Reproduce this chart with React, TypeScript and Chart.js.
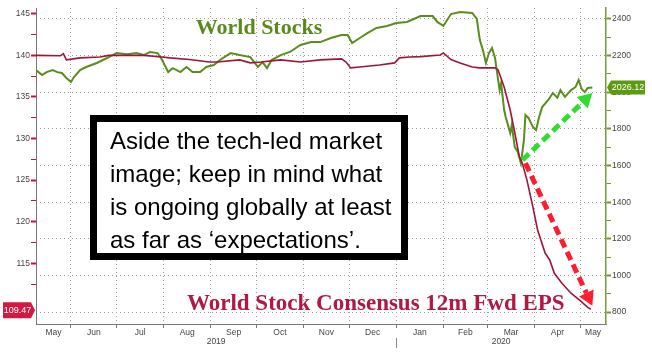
import React, { useEffect, useRef } from 'react';
import { Chart, registerables } from 'chart.js';
Chart.register(...registerables);

// ---------- data ----------
const monthLabels = ['May', 'Jun', 'Jul', 'Aug', 'Sep', 'Oct', 'Nov', 'Dec', 'Jan', 'Feb', 'Mar', 'Apr', 'May'];
const monthStarts = ['2019-05-01', '2019-06-01', '2019-07-01', '2019-08-01', '2019-09-01', '2019-10-01', '2019-11-01', '2019-12-01', '2020-01-01', '2020-02-01', '2020-03-01', '2020-04-01', '2020-05-01', '2020-06-01'];
const yearLabels = ['2019', '2020'];
const yearStarts = ['2019-01-01', '2020-01-01', '2021-01-01'];
const axisStart = '2019-05-09';
const axisEnd = '2020-05-18';

const leftTicks = [112.5, 115, 117.5, 120, 122.5, 125, 127.5, 130, 132.5, 135, 137.5, 140, 142.5, 145];
const rightTicks = [800, 900, 1000, 1100, 1200, 1300, 1400, 1500, 1600, 1700, 1800, 1900, 2000, 2100, 2200, 2300, 2400];

const stockDates = [
  '2019-05-09', '2019-05-13', '2019-05-16', '2019-05-20', '2019-05-23', '2019-05-26', '2019-05-29', '2019-06-01', '2019-06-03', '2019-06-07',
  '2019-06-11', '2019-06-18', '2019-06-22', '2019-06-26', '2019-07-01', '2019-07-08', '2019-07-14', '2019-07-19', '2019-07-23', '2019-07-28',
  '2019-07-31', '2019-08-04', '2019-08-07', '2019-08-12', '2019-08-16', '2019-08-20', '2019-08-25', '2019-08-29', '2019-09-03', '2019-09-07',
  '2019-09-14', '2019-09-20', '2019-09-27', '2019-10-02', '2019-10-05', '2019-10-08', '2019-10-11', '2019-10-17', '2019-10-23', '2019-10-30',
  '2019-11-06', '2019-11-12', '2019-11-19', '2019-11-26', '2019-11-30', '2019-12-03', '2019-12-07', '2019-12-13', '2019-12-19', '2019-12-26',
  '2020-01-01', '2020-01-08', '2020-01-17', '2020-01-25', '2020-01-28', '2020-02-01', '2020-02-06', '2020-02-12', '2020-02-20', '2020-02-23',
  '2020-02-25', '2020-02-27', '2020-02-29', '2020-03-02', '2020-03-04', '2020-03-06', '2020-03-09', '2020-03-10', '2020-03-12', '2020-03-13',
  '2020-03-16', '2020-03-17', '2020-03-19', '2020-03-21', '2020-03-23', '2020-03-25', '2020-03-26', '2020-03-28', '2020-03-31', '2020-04-02',
  '2020-04-04', '2020-04-06', '2020-04-10', '2020-04-13', '2020-04-16', '2020-04-18', '2020-04-21', '2020-04-25', '2020-04-28', '2020-04-30',
  '2020-05-02', '2020-05-04', '2020-05-06', '2020-05-09'
];
const stockValues = [
  2121, 2094, 2110, 2121, 2110, 2105, 2078, 2056, 2083, 2121,
  2138, 2160, 2176, 2192, 2214, 2208, 2214, 2203, 2220, 2214,
  2176, 2110, 2132, 2110, 2138, 2110, 2110, 2138, 2149, 2176,
  2214, 2203, 2192, 2138, 2165, 2132, 2176, 2203, 2220, 2258,
  2274, 2274, 2296, 2313, 2313, 2269, 2291, 2323, 2351, 2362,
  2378, 2384, 2416, 2416, 2384, 2362, 2427, 2438, 2433, 2400,
  2285, 2231, 2160, 2214, 2242, 2187, 2012, 2050, 1903, 1865,
  1777, 1821, 1701, 1674, 1613, 1739, 1876, 1860, 1810, 1794,
  1865, 1919, 1958, 1996, 1970, 2012, 1975, 2012, 2029, 2067,
  2018, 2001, 2023, 2026.12
];

const epsDates = [
  '2019-05-09', '2019-05-25', '2019-05-27', '2019-05-29', '2019-06-07', '2019-06-20', '2019-06-26', '2019-07-08', '2019-07-19', '2019-07-31',
  '2019-08-05', '2019-08-18', '2019-08-31', '2019-09-05', '2019-09-20', '2019-09-27', '2019-10-04', '2019-10-17', '2019-10-30', '2019-11-12',
  '2019-11-26', '2019-11-29', '2019-12-02', '2019-12-08', '2019-12-21', '2019-12-31', '2020-01-03', '2020-01-10', '2020-01-17', '2020-01-30',
  '2020-02-01', '2020-02-06', '2020-02-12', '2020-02-20', '2020-02-25', '2020-03-06', '2020-03-08', '2020-03-12', '2020-03-16', '2020-03-19',
  '2020-03-22', '2020-03-24', '2020-03-27', '2020-03-31', '2020-04-03', '2020-04-08', '2020-04-11', '2020-04-14', '2020-04-19', '2020-04-25',
  '2020-05-01', '2020-05-06', '2020-05-08'
];
const epsValues = [
  140.0, 139.95, 140.2, 139.46, 139.7, 139.8, 140.0, 140.0, 140.0, 139.8,
  139.7, 139.5, 139.2, 139.2, 139.46, 139.1, 139.2, 139.46, 139.2, 139.46,
  139.58, 139.2, 138.5, 138.6, 138.85, 139.1, 139.7, 139.8, 139.85, 140.05,
  140.3, 139.5, 139.1, 138.6, 138.5, 138.5, 138.25, 136.2, 133.4, 130.7,
  127.8, 127.0, 125.0, 121.7, 119.0, 116.2, 115.4, 113.8, 112.6, 111.4,
  110.5, 109.7, 109.47
];

const greenArrowDates = ['2020-03-24', '2020-05-09'];
const greenArrowValues = [1630, 1996];
const redArrowDates = ['2020-03-26', '2020-05-09'];
const redArrowValues = [1613, 835];

const lastEps = 109.47;
const lastStock = 2026.12;

const titleText = 'World Stocks';
const subtitleText = 'World Stock Consensus 12m Fwd EPS';
const boxLines = [
  'Aside the tech-led market',
  'image; keep in mind what',
  'is ongoing globally at least',
  'as far as \u2018expectations\u2019.'
];

// ---------- helpers ----------
const BASE = Date.UTC(2019, 4, 1);
const dayOf = (s: string) => (Date.parse(s) - BASE) / 86400000;

const GREEN = '#5b8c1e';
const RED = '#9e1639';

function drawArrow(ctx: CanvasRenderingContext2D, x1: number, y1: number, x2: number, y2: number, color: string) {
  const ang = Math.atan2(y2 - y1, x2 - x1);
  const headLen = 14;
  const headW = 8;
  const bx = x2 - Math.cos(ang) * headLen;
  const by = y2 - Math.sin(ang) * headLen;
  ctx.save();
  ctx.strokeStyle = color;
  ctx.lineWidth = 5;
  ctx.setLineDash([9, 5]);
  ctx.beginPath();
  ctx.moveTo(x1, y1);
  ctx.lineTo(bx, by);
  ctx.stroke();
  ctx.setLineDash([]);
  ctx.fillStyle = color;
  ctx.beginPath();
  ctx.moveTo(x2, y2);
  ctx.lineTo(bx + Math.sin(ang) * headW, by - Math.cos(ang) * headW);
  ctx.lineTo(bx - Math.sin(ang) * headW, by + Math.cos(ang) * headW);
  ctx.closePath();
  ctx.fill();
  ctx.restore();
}

const overlayPlugin = {
  id: 'overlay',
  afterDraw(chart: any) {
    const { ctx, chartArea, scales } = chart;
    const x = scales.x;
    const yL = scales.yL;
    const yR = scales.yR;
    ctx.save();

    // month labels
    ctx.font = '8.5px "Liberation Sans"';
    ctx.fillStyle = '#444';
    ctx.textAlign = 'center';
    ctx.textBaseline = 'middle';
    for (let i = 0; i < monthLabels.length; i++) {
      const a = Math.max(dayOf(monthStarts[i]), x.min);
      const b = Math.min(dayOf(monthStarts[i + 1]), x.max);
      if (b <= a) continue;
      const px = (x.getPixelForValue(a) + x.getPixelForValue(b)) / 2;
      ctx.fillText(monthLabels[i], px, chartArea.bottom + 9);
    }
    for (let i = 0; i < yearLabels.length; i++) {
      const a = Math.max(dayOf(yearStarts[i]), x.min);
      const b = Math.min(dayOf(yearStarts[i + 1]), x.max);
      if (b <= a) continue;
      const px = (x.getPixelForValue(a) + x.getPixelForValue(b)) / 2;
      ctx.fillText(yearLabels[i], px, chartArea.bottom + 18);
    }
    // year separator
    const sx = Math.round(x.getPixelForValue(dayOf(yearStarts[1]))) + 0.5;
    ctx.strokeStyle = '#888';
    ctx.lineWidth = 1;
    ctx.beginPath();
    ctx.moveTo(sx, chartArea.bottom + 14);
    ctx.lineTo(sx, chartArea.bottom + 24);
    ctx.stroke();

    // title texts
    ctx.textBaseline = 'alphabetic';
    ctx.font = 'bold 22px "Liberation Serif"';
    ctx.fillStyle = '#5a8a1c';
    ctx.textAlign = 'center';
    ctx.fillText(titleText, 259, 34);
    ctx.font = 'bold 23px "Liberation Serif"';
    ctx.fillStyle = '#b01a42';
    ctx.textAlign = 'left';
    ctx.fillText(subtitleText, 187, 310);

    // arrows
    drawArrow(ctx,
      x.getPixelForValue(dayOf(greenArrowDates[0])), yR.getPixelForValue(greenArrowValues[0]),
      x.getPixelForValue(dayOf(greenArrowDates[1])), yR.getPixelForValue(greenArrowValues[1]), '#2fdc2f');
    drawArrow(ctx,
      x.getPixelForValue(dayOf(redArrowDates[0])), yR.getPixelForValue(redArrowValues[0]),
      x.getPixelForValue(dayOf(redArrowDates[1])), yR.getPixelForValue(redArrowValues[1]), '#ff1c30');

    // text box
    ctx.fillStyle = '#fff';
    ctx.fillRect(90, 115, 318, 145);
    ctx.strokeStyle = '#000';
    ctx.lineWidth = 7;
    ctx.strokeRect(93.5, 118.5, 311, 138);
    ctx.fillStyle = '#000';
    ctx.font = '24px "Liberation Sans"';
    ctx.textAlign = 'left';
    boxLines.forEach((l, i) => ctx.fillText(l, 110, 149 + i * 33));

    // value tags
    const ly = yL.getPixelForValue(lastEps) + 1;
    ctx.fillStyle = '#d21a40';
    ctx.beginPath();
    ctx.moveTo(3, ly - 8);
    ctx.lineTo(31, ly - 8);
    ctx.lineTo(35, ly);
    ctx.lineTo(31, ly + 8);
    ctx.lineTo(3, ly + 8);
    ctx.closePath();
    ctx.fill();
    ctx.fillStyle = '#fff';
    ctx.font = '9px "Liberation Sans"';
    ctx.textAlign = 'center';
    ctx.textBaseline = 'middle';
    ctx.fillText(lastEps.toFixed(2), 17.5, ly + 0.5);

    const ry = yR.getPixelForValue(lastStock);
    ctx.fillStyle = '#5c9a12';
    ctx.beginPath();
    ctx.moveTo(607, ry);
    ctx.lineTo(611, ry - 7);
    ctx.lineTo(645, ry - 7);
    ctx.lineTo(645, ry + 7);
    ctx.lineTo(611, ry + 7);
    ctx.closePath();
    ctx.fill();
    ctx.fillStyle = '#fff';
    ctx.fillText(lastStock.toFixed(2), 628, ry + 0.5);

    ctx.restore();
  }
};

export default function App() {
  const ref = useRef<HTMLCanvasElement | null>(null);
  useEffect(() => {
    document.body.style.margin = '0';
    const canvas = ref.current;
    if (!canvas) return;
    Chart.defaults.font.family = '"Liberation Sans"';
    const chart = new Chart(canvas, {
      type: 'line',
      data: {
        datasets: [
          {
            label: 'World Stock Consensus 12m Fwd EPS',
            data: epsDates.map((d, i) => ({ x: dayOf(d), y: epsValues[i] })),
            yAxisID: 'yL',
            borderColor: RED,
            borderWidth: 1.6,
            pointRadius: 0,
            tension: 0,
          },
          {
            label: 'World Stocks',
            data: stockDates.map((d, i) => ({ x: dayOf(d), y: stockValues[i] })),
            yAxisID: 'yR',
            borderColor: GREEN,
            borderWidth: 2,
            pointRadius: 0,
            tension: 0,
          },
        ],
      },
      options: {
        animation: false,
        responsive: false,
        layout: { padding: { top: 8, left: 0, right: 0, bottom: 0 } },
        plugins: { legend: { display: false }, tooltip: { enabled: false } },
        scales: {
          x: {
            type: 'linear',
            min: dayOf(axisStart),
            max: dayOf(axisEnd),
            afterBuildTicks: (scale: any) => {
              scale.ticks = monthStarts.map(dayOf).filter((d) => d > scale.min && d < scale.max).map((v) => ({ value: v }));
            },
            afterFit: (scale: any) => { scale.height = 32; },
            ticks: { callback: () => '', autoSkip: false, maxRotation: 0 },
            grid: { color: '#a0a0a0', lineWidth: 1, tickColor: '#777', tickLength: 4 },
            border: { color: '#777', width: 1, dash: [1, 3] },
          },
          yL: {
            type: 'linear',
            position: 'left',
            min: 107.7,
            max: 145.7,
            afterBuildTicks: (scale: any) => { scale.ticks = leftTicks.map((v) => ({ value: v })); },
            afterFit: (scale: any) => { scale.width = 36; },
            ticks: {
              callback: (v: any) => (Number(v) % 5 === 0 ? String(v) : ''),
              font: { size: 8.5 },
              color: '#444',
              padding: 1,
              autoSkip: false,
            },
            grid: {
              drawOnChartArea: false,
              tickColor: '#c8103a',
              tickLength: 5,
              tickWidth: (c: any) => (c.tick && c.tick.value % 5 === 0 ? 2 : 1),
            },
            border: { color: '#777', width: 1 },
          },
          yR: {
            type: 'linear',
            position: 'right',
            min: 735,
            max: 2460,
            afterBuildTicks: (scale: any) => { scale.ticks = rightTicks.map((v) => ({ value: v })); },
            afterFit: (scale: any) => { scale.width = 46; },
            ticks: {
              callback: (v: any) => (Number(v) % 200 === 0 ? String(v) : ''),
              font: { size: 8.5 },
              color: '#444',
              padding: 1,
              autoSkip: false,
            },
            grid: {
              color: (c: any) => (c.tick && c.tick.value % 200 === 0 ? '#a0a0a0' : 'rgba(0,0,0,0)'),
              lineWidth: 1,
              tickColor: '#6a9a2a',
              tickLength: 5,
              tickWidth: (c: any) => (c.tick && c.tick.value % 200 === 0 ? 2 : 1),
            },
            border: { color: '#7a9a3a', width: 1.5, dash: [1, 3] },
          },
        },
      },
      plugins: [overlayPlugin],
    } as any);
    return () => chart.destroy();
  }, []);
  return (
    <div style={{ position: 'fixed', left: 0, top: 0, width: 652, height: 356, background: '#fff' }}>
      <canvas ref={ref} width={652} height={356} style={{ width: 652, height: 356, display: 'block' }} />
    </div>
  );
}
